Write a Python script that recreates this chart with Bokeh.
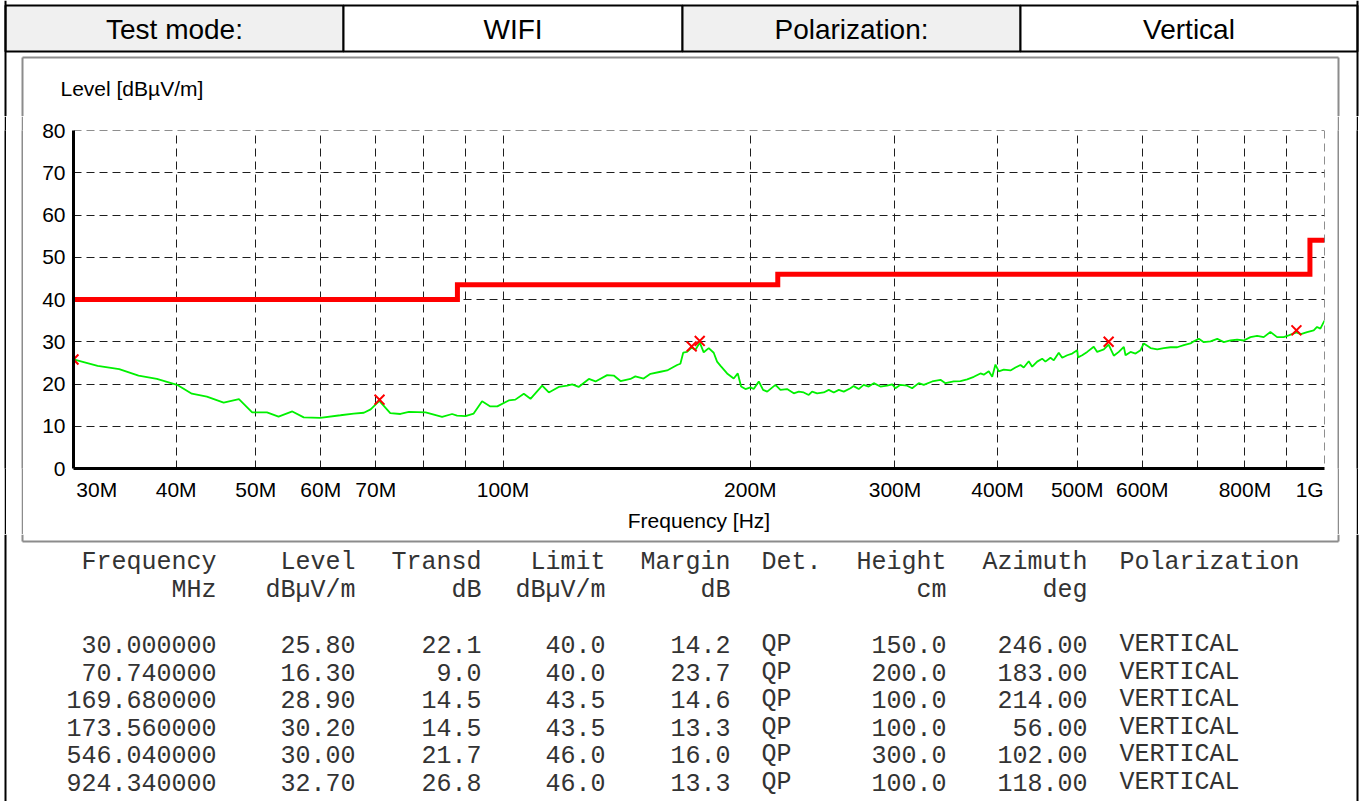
from bokeh.plotting import figure
from bokeh.layouts import column, row
from bokeh.models import Range1d, FixedTicker, Span, ColumnDataSource, CustomJSTickFormatter, Spacer
from bokeh.core.properties import value
from bokeh.embed import file_html
from bokeh.resources import INLINE

# ---------------- data ----------------
header_cells = ["Test mode:", "WIFI", "Polarization:", "Vertical"]
y_axis_title = "Level [dBµV/m]"
x_axis_title = "Frequency [Hz]"

trace_freq_mhz = [
    30.0, 32.1, 34.1, 36.0, 37.9, 40.1, 41.8, 43.6, 45.7, 47.7, 49.5, 51.6, 53.3, 55.4, 57.2,
    59.9, 63.4, 65.8, 67.7, 69.0, 70.7, 72.9, 75.0, 76.8, 80.5, 84.3, 86.7, 87.9, 90.0, 92.1,
    94.3, 96.5, 98.4, 101.6, 103.5, 106.0, 108.0, 111.6, 113.7, 116.9, 119.7, 121.4, 123.6,
    127.2, 129.6, 133.9, 136.4, 139.0, 142.9, 144.9, 148.3, 151.2, 155.5, 158.4, 162.9, 164.4,
    165.7, 167.5, 169.7, 171.5, 173.6, 175.5, 178.0, 180.5, 182.2, 184.0, 187.4, 190.9, 193.1,
    194.9, 197.3, 200.1, 201.9, 204.8, 207.3, 209.7, 214.6, 217.6, 221.7, 225.9, 229.1, 232.3,
    235.6, 237.8, 241.2, 245.7, 249.2, 252.7, 256.3, 259.9, 264.8, 267.2, 271.0, 274.8, 278.7,
    282.7, 288.0, 293.5, 297.7, 300.4, 304.6, 310.4, 314.8, 320.7, 325.2, 333.0, 340.8, 345.6,
    353.7, 360.4, 367.3, 374.2, 381.2, 384.8, 390.2, 394.0, 397.6, 401.3, 407.0, 414.7, 420.5,
    426.5, 430.4, 436.5, 440.7, 446.9, 453.2, 457.4, 463.9, 468.2, 474.8, 479.4, 486.2, 493.0,
    500.0, 501.1, 507.0, 514.2, 523.7, 528.8, 538.7, 546.0, 554.0, 561.8, 569.8, 572.5, 580.6,
    588.8, 597.1, 602.6, 611.1, 614.1, 625.7, 637.3, 649.5, 661.8, 674.1, 686.9, 693.3, 703.1,
    713.0, 726.5, 740.3, 754.1, 768.2, 782.8, 797.5, 812.6, 828.0, 843.3, 859.3, 875.6, 891.9,
    904.5, 924.3, 936.0, 952.4, 970.2, 979.4, 988.5, 1000.0,
]
trace_level = [
    25.8, 24.3, 23.5, 22.0, 21.2, 19.8, 17.7, 17.0, 15.6, 16.4, 13.3, 13.3, 12.3, 13.5, 12.1,
    12.0, 12.6, 13.0, 13.2, 14.0, 16.0, 13.1, 12.9, 13.4, 13.3, 12.2, 12.9, 12.5, 12.4, 13.0,
    15.9, 14.7, 14.7, 16.1, 16.3, 17.7, 16.5, 19.6, 18.0, 19.3, 19.6, 19.9, 19.3,
    21.2, 20.6, 22.1, 22.0, 20.7, 21.2, 21.8, 21.3, 22.4, 22.9, 23.2, 24.5, 24.8,
    27.4, 27.6, 28.6, 28.1, 29.8, 27.5, 28.5, 27.4, 25.3, 24.3, 22.5, 21.3, 22.5,
    19.4, 18.8, 19.2, 18.8, 20.6, 18.6, 18.2, 19.8, 18.6, 18.8, 17.8, 18.2, 18.0,
    17.4, 18.2, 17.8, 18.0, 18.6, 18.0, 18.6, 18.2, 19.0, 19.5, 18.8, 19.8, 19.4,
    20.2, 19.4, 19.6, 19.9, 19.0, 19.8, 19.6, 19.0, 20.2, 19.8, 20.6, 21.0, 20.2,
    20.6, 20.7, 21.1, 21.7, 22.5, 22.2, 23.0, 21.7, 24.6, 23.0, 23.4, 23.2, 23.9,
    24.5, 23.9, 25.4, 24.1, 25.3, 26.0, 25.3, 26.2, 25.6, 27.4, 26.2, 26.8, 27.2,
    28.0, 26.3, 26.8, 27.6, 28.8, 27.6, 28.2, 29.3, 26.7, 27.6, 28.8, 26.8, 27.6,
    27.2, 28.0, 29.6, 28.8, 28.5, 28.2, 28.5, 28.7, 28.7, 29.2, 29.6, 30.1, 30.7,
    29.9, 30.1, 30.7, 29.9, 30.3, 30.5, 30.3, 31.1, 31.4, 31.1, 32.3, 31.1, 31.1,
    31.5, 32.2, 31.8, 32.3, 32.7, 33.5, 33.1, 35.0,
]

limit_freq_mhz = [30, 88, 88, 216, 216, 960, 960, 1000]
limit_level = [40.0, 40.0, 43.5, 43.5, 46.0, 46.0, 54.0, 54.0]

peak_freq_mhz = [30.0, 70.74, 169.68, 173.56, 546.04, 924.34]
peak_level = [25.8, 16.3, 28.9, 30.2, 30.0, 32.7]
peak_transd = [22.1, 9.0, 14.5, 14.5, 21.7, 26.8]
peak_limit = [40.0, 40.0, 43.5, 43.5, 46.0, 46.0]
peak_margin = [14.2, 23.7, 14.6, 13.3, 16.0, 13.3]
peak_det = ["QP", "QP", "QP", "QP", "QP", "QP"]
peak_height = [150.0, 200.0, 100.0, 100.0, 300.0, 100.0]
peak_azimuth = [246.0, 183.0, 214.0, 56.0, 102.0, 118.0]
peak_pol = ["VERTICAL"] * 6

table_head_1 = ["Frequency", "Level", "Transd", "Limit", "Margin", "Det.", "Height", "Azimuth", "Polarization"]
table_head_2 = ["MHz", "dBµV/m", "dB", "dBµV/m", "dB", "", "cm", "deg", ""]

x_tick_mhz = [30, 40, 50, 60, 70, 100, 200, 300, 400, 500, 600, 800, 1000]
x_tick_labels = ["30M", "40M", "50M", "60M", "70M", "100M", "200M", "300M", "400M", "500M",
                 "600M", "800M", "1G"]
x_grid_mhz = [40, 50, 60, 70, 80, 90, 100, 200, 300, 400, 500, 600, 700, 800, 900, 1000]
y_ticks = [0, 10, 20, 30, 40, 50, 60, 70, 80]

# ---------------- layout constants (pixels) ----------------
W, H_TOTAL = 1362, 801
HA, HB = 116, 418
HC = H_TOTAL - HA - HB
MB_L, MB_R, MB_T, MB_B = 38, 5, 14, 63

X_OUT_L, X_OUT_R = 5, 1357
X_BOX_L, X_BOX_R = 22, 1338
BLACK = "#000000"
GRAY = "#8c8c8c"
GRID = "#1e1e1e"
FONT = "Liberation Sans"
MONO = "Liberation Mono"
NB = "\u00a0"


def pixel_fig(w, h):
    p = figure(width=w, height=h, x_range=Range1d(0, w), y_range=Range1d(h, 0),
               min_border=0, toolbar_location=None, output_backend="svg",
               x_axis_location=None, y_axis_location=None)
    p.outline_line_color = None
    p.grid.visible = False
    p.background_fill_color = "white"
    p.border_fill_color = "white"
    return p


def seg(p, x0, y0, x1, y1, color, width):
    p.segment(x0=[x0], y0=[y0], x1=[x1], y1=[y1], line_color=color, line_width=width)


def bar(width, color):
    # a thin solid figure: continues a vertical border line through the chart row
    f = figure(width=width, height=HB, min_border=0, toolbar_location=None, output_backend="svg",
               x_axis_location=None, y_axis_location=None, x_range=Range1d(0, 1), y_range=Range1d(0, 1))
    f.grid.visible = False
    f.outline_line_color = None
    f.background_fill_color = color
    f.border_fill_color = color
    return f


# ---------------- header ----------------
pa = pixel_fig(W, HA)
edges = [X_OUT_L, 343, 682, 1020, X_OUT_R]
pa.quad(left=edges[:-1], right=edges[1:], top=5, bottom=51,
        fill_color=["#f0f0f0", "#ffffff", "#f0f0f0", "#ffffff"],
        line_color=BLACK, line_width=2)
pa.text(x=[(a + b) / 2 for a, b in zip(edges[:-1], edges[1:])], y=[29] * 4, text=header_cells,
        text_font=value(FONT), text_font_size=value("28px"), text_align="center",
        text_baseline="middle", text_color=BLACK)
seg(pa, X_OUT_L, 0, X_OUT_L, HA, BLACK, 2)
seg(pa, X_OUT_R, 0, X_OUT_R, HA, BLACK, 2)
seg(pa, X_BOX_L, 57, X_BOX_R, 57, GRAY, 2)
seg(pa, X_BOX_L, 57, X_BOX_L, HA, GRAY, 2)
seg(pa, X_BOX_R, 57, X_BOX_R, HA, GRAY, 2)
pa.text(x=[60], y=[88], text=[y_axis_title], text_font=value(FONT), text_font_size=value("21px"),
        text_align="left", text_baseline="middle", text_color=BLACK)

# ---------------- side strips: outer border and box edge continue through the chart row ----------------
left_parts = [Spacer(width=X_OUT_L - 1, height=HB), bar(2, BLACK),
              Spacer(width=X_BOX_L - X_OUT_L - 2, height=HB), bar(2, GRAY),
              Spacer(width=12, height=HB)]
LEFT_W = X_BOX_L + 1 + 12
RIGHT_START = 1329
right_parts = [Spacer(width=X_BOX_R - 1 - RIGHT_START, height=HB), bar(2, GRAY),
               Spacer(width=X_OUT_R - X_BOX_R - 2, height=HB), bar(2, BLACK),
               Spacer(width=W - X_OUT_R - 1, height=HB)]
CHART_W = RIGHT_START - LEFT_W

# ---------------- chart ----------------
pc = figure(width=CHART_W, height=HB, x_axis_type="log",
            x_range=Range1d(x_tick_mhz[0], x_tick_mhz[-1]), y_range=Range1d(y_ticks[0], y_ticks[-1]),
            min_border_left=MB_L, min_border_right=MB_R, min_border_top=MB_T, min_border_bottom=MB_B,
            toolbar_location=None, output_backend="svg")
pc.outline_line_color = None
pc.background_fill_color = "white"
pc.border_fill_color = "white"

for ax in (pc.xaxis[0], pc.yaxis[0]):
    ax.axis_line_width = 3
    ax.axis_line_color = BLACK
    ax.major_tick_line_color = None
    ax.minor_tick_line_color = None
    ax.major_tick_out = 0
    ax.major_tick_in = 0
    ax.minor_tick_out = 0
    ax.major_label_text_font = FONT
    ax.major_label_text_font_size = "21px"
    ax.major_label_text_color = BLACK

# first label starts at the left frame edge, last label ends at the right frame edge
x_tick_display = [NB * 7 + x_tick_labels[0]] + x_tick_labels[1:-1] + [x_tick_labels[-1] + NB]
pc.xaxis[0].ticker = FixedTicker(ticks=x_tick_mhz, minor_ticks=[])
pc.xaxis[0].formatter = CustomJSTickFormatter(args=dict(tk=x_tick_mhz, lab=x_tick_display),
                                              code="const i = tk.indexOf(tick); return i >= 0 ? lab[i] : '';")
pc.xaxis[0].major_label_standoff = 9
pc.xaxis[0].axis_label = x_axis_title
pc.xaxis[0].axis_label_text_font = FONT
pc.xaxis[0].axis_label_text_font_size = "21px"
pc.xaxis[0].axis_label_text_font_style = "normal"
pc.xaxis[0].axis_label_text_color = BLACK
pc.xaxis[0].axis_label_standoff = 5

pc.yaxis[0].ticker = FixedTicker(ticks=y_ticks, minor_ticks=[])
pc.yaxis[0].major_label_standoff = 8

pc.xgrid.ticker = FixedTicker(ticks=x_grid_mhz)
pc.ygrid.ticker = FixedTicker(ticks=y_ticks[1:])
for g in (pc.xgrid[0], pc.ygrid[0]):
    g.grid_line_color = GRID
    g.grid_line_dash = "8 5"
    g.grid_line_width = 1

pc.add_layout(Span(location=y_ticks[-1], dimension="width", line_color=GRID,
                   line_dash="8 5", line_width=1))
pc.add_layout(Span(location=x_grid_mhz[-1], dimension="height", line_color=GRID,
                   line_dash="8 5", line_width=1))

trace_src = ColumnDataSource(dict(f=trace_freq_mhz, lv=trace_level))
pc.line("f", "lv", source=trace_src, line_color="#00f000", line_width=1.8)
limit_src = ColumnDataSource(dict(f=limit_freq_mhz, lv=limit_level))
pc.line("f", "lv", source=limit_src, line_color="#ff0000", line_width=5, line_join="miter")
peak_src = ColumnDataSource(dict(f=peak_freq_mhz, lv=peak_level))
pc.scatter("f", "lv", source=peak_src, marker="x", size=14, line_color="#ff0000", line_width=2)

# ---------------- table ----------------
pt = pixel_fig(W, HC)
seg(pt, X_OUT_L, 0, X_OUT_L, HC, BLACK, 2)
seg(pt, X_OUT_R, 0, X_OUT_R, HC, BLACK, 2)
seg(pt, X_BOX_L, 0, X_BOX_L, 7, GRAY, 2)
seg(pt, X_BOX_R, 0, X_BOX_R, 7, GRAY, 2)
seg(pt, X_BOX_L, 7, X_BOX_R, 7, GRAY, 2)

col_anchor = [216, 355, 481, 605, 730, 761, 946, 1087, 1119]
col_align = ["right", "right", "right", "right", "right", "left", "right", "right", "left"]
col_values = [
    [f"{v:.6f}" for v in peak_freq_mhz],
    [f"{v:.2f}" for v in peak_level],
    [f"{v:.1f}" for v in peak_transd],
    [f"{v:.1f}" for v in peak_limit],
    [f"{v:.1f}" for v in peak_margin],
    peak_det,
    [f"{v:.1f}" for v in peak_height],
    [f"{v:.2f}" for v in peak_azimuth],
    peak_pol,
]
HEAD_Y1, HEAD_Y2, ROW_Y0, ROW_DY = 28, 56, 110, 27.6

xs, ys, ts, als = [], [], [], []
for c in range(len(col_anchor)):
    cells = [(HEAD_Y1, table_head_1[c]), (HEAD_Y2, table_head_2[c])]
    cells += [(ROW_Y0 + i * ROW_DY, s) for i, s in enumerate(col_values[c])]
    for yv, s in cells:
        if s:
            xs.append(col_anchor[c]); ys.append(yv); ts.append(s); als.append(col_align[c])
tsrc = ColumnDataSource(dict(x=xs, y=ys, t=ts, a=als))
pt.text("x", "y", text="t", source=tsrc, text_align="a", text_baseline="alphabetic",
        text_font=value(MONO), text_font_size=value("25px"), text_color="#333333")

layout = column(pa, row(*left_parts, pc, *right_parts), pt)
open("out.html", "w").write(file_html(layout, INLINE, title="EMI scan"))
